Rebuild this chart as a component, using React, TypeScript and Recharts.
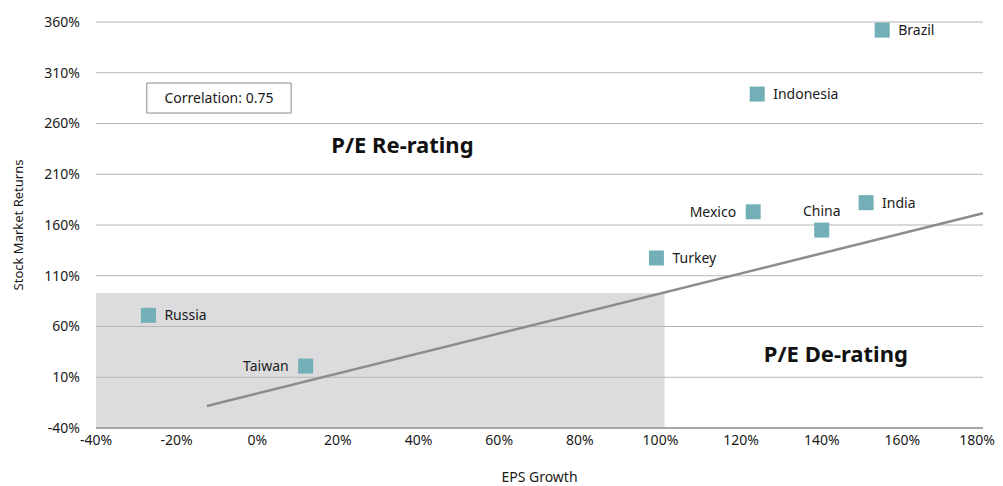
import {
    ScatterChart,
    Scatter,
    XAxis,
    YAxis,
    CartesianGrid,
    ReferenceArea,
    ReferenceLine,
    ReferenceDot,
} from "recharts";

const countries = ["Brazil", "Indonesia", "India", "Mexico", "China", "Turkey", "Russia", "Taiwan"];
const epsGrowth = [155, 124, 151, 123, 140, 99, -27, 12];
const marketReturns = [352, 289, 182, 173, 155, 127.5, 71, 21];

const xTicks = [-40, -20, 0, 20, 40, 60, 80, 100, 120, 140, 160, 180];
const yTicks = [-40, 10, 60, 110, 160, 210, 260, 310, 360];

// trend line end points (eps growth, return)
const trendStart = { x: -12.5, y: -18.3 };
const trendEnd = { x: 180, y: 171.5 };

const labelSide: Record<string, string> = {
    Brazil: "right",
    Indonesia: "right",
    India: "right",
    Mexico: "left",
    China: "top",
    Turkey: "right",
    Russia: "right",
    Taiwan: "left",
};

const points = countries.map((name, i) => ({
    name,
    eps: epsGrowth[i],
    ret: marketReturns[i],
}));

const FONT = "'Noto Sans', sans-serif";
const MARKER = "#72afb6";

function CountryMarker(props: any) {
    const { cx, cy, payload } = props;
    const side = labelSide[payload.name];
    let tx = cx + 16;
    let ty = cy;
    let anchor: "start" | "end" | "middle" = "start";
    if (side === "left") {
        tx = cx - 17;
        anchor = "end";
    } else if (side === "top") {
        tx = cx;
        ty = cy - 19;
        anchor = "middle";
    }
    return (
        <g>
            <rect x={cx - 7.5} y={cy - 7.5} width={15} height={15} fill={MARKER} />
            <text
                x={tx}
                y={ty}
                dy="0.35em"
                textAnchor={anchor}
                fontSize={14}
                fontFamily={FONT}
                fill="#1a1a1a"
            >
                {payload.name}
            </text>
        </g>
    );
}

function XTick(props: any) {
    const { x, y, payload } = props;
    // last label is pulled in so it stays inside the frame
    const shift = payload.value === 180 ? -6 : 0;
    return (
        <text
            x={x + shift}
            y={y + 5}
            dy="0.71em"
            textAnchor="middle"
            fontSize={14}
            fontFamily={FONT}
            fill="#1a1a1a"
        >
            {payload.value}%
        </text>
    );
}

const fmt = (v: number) => `${v}%`;

export default function App() {
    return (
        <div style={{ position: "absolute", top: 0, left: 0 }}>
            <ScatterChart
                width={1003}
                height={486}
                margin={{ top: 22, right: 20, bottom: 2, left: 0 }}
                style={{ fontFamily: FONT }}
            >
                <CartesianGrid vertical={false} stroke="#b4b4b4" strokeWidth={1.2} />
                <ReferenceArea
                    x1={-40}
                    x2={101}
                    y1={-40}
                    y2={93}
                    fill="#b9babf"
                    fillOpacity={0.5}
                    stroke="none"
                />
                <XAxis
                    type="number"
                    dataKey="eps"
                    domain={[-40, 180]}
                    ticks={xTicks}
                    tick={XTick}
                    tickLine={false}
                    axisLine={{ stroke: "#a6a6a6", strokeWidth: 2 }}
                    tickSize={0}
                    height={56}
                    label={{
                        value: "EPS Growth",
                        position: "insideBottom",
                        offset: 2,
                        style: { fontSize: 14, fill: "#1a1a1a" },
                    }}
                />
                <YAxis
                    type="number"
                    dataKey="ret"
                    domain={[-40, 360]}
                    ticks={yTicks}
                    tickFormatter={fmt}
                    tickLine={false}
                    axisLine={false}
                    width={96}
                    tickSize={0}
                    tickMargin={16}
                    tick={{ fontSize: 14, fill: "#1a1a1a" }}
                    label={{
                        value: "Stock Market Returns",
                        angle: -90,
                        position: "insideLeft",
                        offset: 18,
                        style: { fontSize: 13, fill: "#1a1a1a", textAnchor: "middle" },
                    }}
                />
                <ReferenceArea
                    x1={-27.4}
                    x2={8.4}
                    y1={270.3}
                    y2={299.9}
                    fill="#ffffff"
                    fillOpacity={1}
                    stroke="#8a8a8a"
                    label={{
                        value: "Correlation: 0.75",
                        position: "center",
                        style: { fontSize: 14, fill: "#1a1a1a" },
                    }}
                />
                <ReferenceDot
                    x={36}
                    y={239}
                    r={0}
                    stroke="none"
                    label={{
                        value: "P/E Re-rating",
                        position: "center",
                        style: { fontSize: 22, fontWeight: 700, fill: "#111" },
                    }}
                />
                <ReferenceDot
                    x={143.5}
                    y={33}
                    r={0}
                    stroke="none"
                    label={{
                        value: "P/E De-rating",
                        position: "center",
                        style: { fontSize: 22, fontWeight: 700, fill: "#111" },
                    }}
                />
                <ReferenceLine
                    segment={[trendStart, trendEnd]}
                    stroke="#8c8c8c"
                    strokeWidth={2.5}
                />
                <Scatter data={points} shape={CountryMarker} isAnimationActive={false} />
            </ScatterChart>
        </div>
    );
}
